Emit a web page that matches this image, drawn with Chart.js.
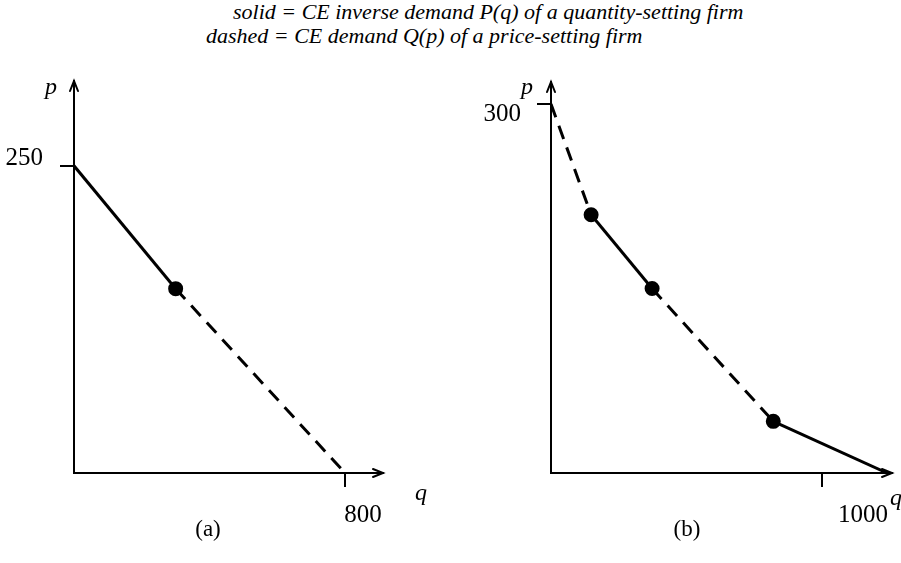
<!DOCTYPE html>
<html lang="en">
<head>
    <meta charset="UTF-8">
    <title>CE demand: quantity-setting vs price-setting firm</title>
    <script src="https://cdn.jsdelivr.net/npm/chart.js"></script>
    <style>
        body { margin: 0; background: #fff; }
        #wrap { position: relative; width: 901px; height: 563px; overflow: hidden; }
        .title { position: absolute; font-family: "Liberation Serif", serif; font-style: italic; font-size: 22px; line-height: 24px; color: #000; white-space: nowrap; }
        canvas { position: absolute; top: 0; }
    </style>
</head>
<body>
<div id="wrap">
    <div class="title" style="left:233px; top:0px;">solid = CE inverse demand P(q) of a quantity-setting firm</div>
    <div class="title" style="left:206px; top:24px;">dashed = CE demand Q(p) of a price-setting firm</div>
    <canvas id="chartA" width="450" height="563" style="left:0;"></canvas>
    <canvas id="chartB" width="451" height="563" style="left:450px;"></canvas>
</div>

<script>
    // panel (a)
    const aQ = [0, 300, 800];
    const aP = [250, 150, 0];
    const aLine = ['solid', 'dashed'];
    const aXTicks = [800];
    const aYTicks = [250];

    // panel (b)
    const bQ = [0, 148, 373, 820, 1240];
    const bP = [300, 210, 150, 42, 0];
    const bLine = ['dashed', 'solid', 'dashed', 'solid'];
    const bXTicks = [1000];
    const bYTicks = [300];

    const serif = '"Liberation Serif", "Times New Roman", serif';

    // arrow heads, axis names and panel caption
    const axisExtras = {
        id: 'axisExtras',
        afterDraw(chart, args, opts) {
            const ctx = chart.ctx;
            const a = chart.chartArea;
            ctx.save();
            ctx.strokeStyle = '#000';
            ctx.lineWidth = 2;
            ctx.lineCap = 'round';
            ctx.beginPath();
            ctx.moveTo(a.left - 4, a.top + 10);
            ctx.lineTo(a.left, a.top);
            ctx.lineTo(a.left + 4, a.top + 10);
            ctx.moveTo(a.right - 10, a.bottom - 4);
            ctx.lineTo(a.right, a.bottom);
            ctx.lineTo(a.right - 10, a.bottom + 4);
            ctx.stroke();

            ctx.fillStyle = '#000';
            ctx.textAlign = 'center';
            ctx.textBaseline = 'middle';
            ctx.font = 'italic 24px ' + serif;
            ctx.fillText('p', a.left + opts.p[0], a.top + opts.p[1]);
            ctx.fillText('q', a.right + opts.q[0], a.bottom + opts.q[1]);
            ctx.font = '23px ' + serif;
            ctx.fillText(opts.caption, a.left + opts.cap[0], a.bottom + opts.cap[1]);
            ctx.restore();
        }
    };

    function makePanel(id, q, p, lines, xTicks, yTicks, g) {
        const pts = q.map((v, i) => ({ x: v, y: p[i] }));
        const last = pts.length - 1;
        new Chart(document.getElementById(id), {
            type: 'line',
            data: {
                datasets: [{
                    data: pts,
                    borderColor: '#000',
                    backgroundColor: '#000',
                    borderWidth: 3,
                    pointRadius: pts.map((_, i) => (i === 0 || i === last) ? 0 : 6),
                    pointHoverRadius: 0,
                    tension: 0,
                    segment: {
                        borderDash: c => lines[c.p0DataIndex] === 'dashed' ? [14, 9] : []
                    }
                }]
            },
            options: {
                responsive: false,
                animation: false,
                devicePixelRatio: 1,
                layout: { padding: { top: g.top, right: g.right, left: 0, bottom: 0 } },
                plugins: {
                    legend: { display: false },
                    tooltip: { enabled: false },
                    axisExtras: { p: g.p, q: g.q, cap: g.cap, caption: g.caption }
                },
                scales: {
                    x: {
                        type: 'linear',
                        min: 0,
                        max: g.xMax,
                        afterBuildTicks: s => { s.ticks = xTicks.map(v => ({ value: v })); },
                        afterFit: s => { s.height = g.xH; },
                        border: { display: true, color: '#000', width: 2 },
                        grid: { display: true, drawOnChartArea: false, drawTicks: true, tickLength: 14, color: '#000', lineWidth: 2 },
                        ticks: { color: '#000', font: { family: serif, size: 25 }, padding: 13, labelOffset: g.xLabelOffset, maxRotation: 0, callback: v => String(v) }
                    },
                    y: {
                        type: 'linear',
                        min: 0,
                        max: g.yMax,
                        afterBuildTicks: s => { s.ticks = yTicks.map(v => ({ value: v })); },
                        afterFit: s => { s.width = g.yW; },
                        border: { display: true, color: '#000', width: 2 },
                        grid: { display: true, drawOnChartArea: false, drawTicks: true, tickLength: 14, color: '#000', lineWidth: 2 },
                        ticks: { color: '#000', font: { family: serif, size: 25 }, padding: g.yPad, labelOffset: g.yLabelOffset, callback: v => String(v) }
                    }
                }
            },
            plugins: [axisExtras]
        });
    }

    makePanel('chartA', aQ, aP, aLine, aXTicks, aYTicks, {
        top: 81, right: 67, xH: 90, yW: 74, xMax: 912, yMax: 319,
        xLabelOffset: 18, yLabelOffset: -7, yPad: 17,
        p: [-23, 7], q: [38, 21], cap: [134, 57], caption: '(a)'
    });

    makePanel('chartB', bQ, bP, bLine, bXTicks, bYTicks, {
        top: 82, right: 9, xH: 90, yW: 101, xMax: 1258, yMax: 318,
        xLabelOffset: 41, yLabelOffset: 10, yPad: 16,
        p: [-24, 6], q: [4, 26], cap: [136, 57], caption: '(b)'
    });
</script>
</body>
</html>
